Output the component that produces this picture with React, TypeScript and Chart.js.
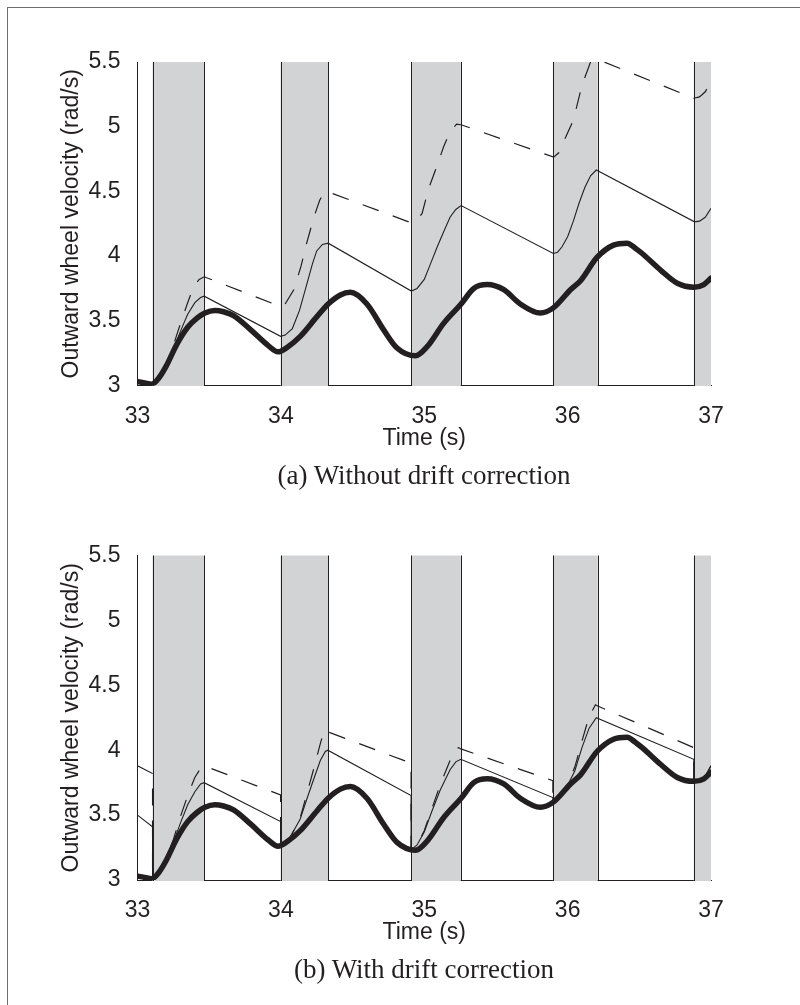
import React, { useEffect, useRef } from "react";
import { Chart, registerables } from "chart.js";

Chart.register(...registerables);

// ---- axes ----
const X_MIN = 33;
const X_MAX = 37;
const X_TICKS = [33, 34, 35, 36, 37];
const Y_MIN = 3;
const Y_MAX = 5.5;
const Y_TICKS = [3, 3.5, 4, 4.5, 5, 5.5];
const X_TITLE = "Time (s)";
const Y_TITLE = "Outward wheel velocity (rad/s)";
const CAPTIONS = ["(a) Without drift correction", "(b) With drift correction"];

// ---- shaded intervals (s) ----
const BAND_START = [33.105, 33.998, 34.908, 35.897, 36.88];
const BAND_END = [33.465, 34.33, 35.255, 36.21, 37.0];

// ---- thick line (same in both panels) ----
const THICK_T = [33.0, 33.05, 33.1, 33.15, 33.2, 33.275, 33.35, 33.415, 33.47, 33.54, 33.6, 33.67, 33.79, 33.91, 33.98, 34.05, 34.135, 34.25, 34.33, 34.415, 34.485, 34.6, 34.717, 34.81, 34.94, 35.02, 35.135, 35.257, 35.345, 35.44, 35.555, 35.67, 35.81, 35.9, 36.02, 36.09, 36.205, 36.32, 36.415, 36.45, 36.485, 36.52, 36.65, 36.765, 36.88, 36.95, 37.0];
const THICK_V = [3.03, 3.02, 3.01, 3.06, 3.15, 3.32, 3.45, 3.52, 3.56, 3.58, 3.57, 3.54, 3.43, 3.31, 3.26, 3.3, 3.38, 3.53, 3.63, 3.7, 3.72, 3.63, 3.43, 3.29, 3.23, 3.3, 3.48, 3.63, 3.75, 3.78, 3.74, 3.63, 3.56, 3.6, 3.74, 3.81, 3.99, 4.085, 4.1, 4.08, 4.05, 4.02, 3.89, 3.79, 3.76, 3.78, 3.83];

// ---- panel (a): thin solid ----
const A_SOLID_T = [33.0, 33.1, 33.15, 33.2, 33.25, 33.3, 33.35, 33.4, 33.44, 33.465, 33.998, 34.03, 34.08, 34.13, 34.18, 34.22, 34.25, 34.29, 34.33, 34.91, 34.95, 35.0, 35.04, 35.09, 35.14, 35.18, 35.22, 35.257, 35.9, 35.93, 35.96, 36.0, 36.04, 36.08, 36.12, 36.16, 36.2, 36.885, 36.92, 36.96, 37.0];
const A_SOLID_V = [3.02, 3.01, 3.05, 3.17, 3.28, 3.42, 3.55, 3.64, 3.68, 3.69, 3.38, 3.39, 3.44, 3.58, 3.78, 3.94, 4.04, 4.09, 4.1, 3.73, 3.75, 3.82, 3.93, 4.07, 4.2, 4.3, 4.36, 4.39, 4.02, 4.03, 4.07, 4.15, 4.27, 4.41, 4.53, 4.62, 4.665, 4.265, 4.27, 4.3, 4.37];

// ---- panel (a): dashed ----
const A_DASH_T = [33.0, 33.1, 33.15, 33.2, 33.25, 33.3, 33.35, 33.39, 33.43, 33.465, 33.998, 34.03, 34.09, 34.14, 34.18, 34.23, 34.27, 34.3, 34.32, 34.915, 34.95, 34.985, 35.03, 35.09, 35.135, 35.18, 35.225, 35.257, 35.903, 35.94, 35.97, 36.04, 36.1, 36.16, 36.21, 36.88, 36.92, 36.96, 37.0];
const A_DASH_V = [3.02, 3.01, 3.05, 3.17, 3.31, 3.48, 3.64, 3.76, 3.82, 3.84, 3.61, 3.63, 3.74, 3.92, 4.1, 4.3, 4.43, 4.49, 4.5, 4.255, 4.28, 4.33, 4.52, 4.7, 4.845, 4.96, 5.02, 5.015, 4.765, 4.8, 4.88, 5.05, 5.32, 5.5, 5.52, 5.22, 5.23, 5.27, 5.35];

// ---- panel (b): thin solid ----
const B_SOLID_T = [33.0, 33.105, 33.105, 33.15, 33.2, 33.25, 33.3, 33.35, 33.4, 33.44, 33.465, 33.998, 33.998, 34.05, 34.08, 34.135, 34.18, 34.23, 34.275, 34.31, 34.327, 34.908, 34.908, 34.95, 35.0, 35.05, 35.11, 35.18, 35.22, 35.255, 35.897, 35.897, 35.95, 36.0, 36.05, 36.1, 36.15, 36.2, 36.88, 36.88, 36.95, 37.0];
const B_SOLID_V = [3.5, 3.41, 3.01, 3.05, 3.15, 3.29, 3.44, 3.58, 3.68, 3.74, 3.75, 3.45, 3.27, 3.3, 3.36, 3.47, 3.62, 3.78, 3.92, 3.99, 4.0, 3.65, 3.23, 3.27, 3.37, 3.52, 3.69, 3.85, 3.91, 3.93, 3.635, 3.6, 3.64, 3.73, 3.84, 4.02, 4.17, 4.25, 3.93, 3.76, 3.78, 3.88];

// ---- panel (b): dashed ----
const B_DASH_T = [33.0, 33.105, 33.105, 33.15, 33.2, 33.25, 33.3, 33.35, 33.4, 33.44, 33.465, 33.998, 33.998, 34.05, 34.08, 34.135, 34.18, 34.23, 34.275, 34.303, 34.33, 34.908, 34.908, 34.95, 35.0, 35.05, 35.11, 35.18, 35.22, 35.24, 35.255, 35.897, 35.897, 35.95, 36.0, 36.05, 36.1, 36.15, 36.194, 36.21, 36.88, 36.88, 36.95, 37.0];
const B_DASH_V = [3.88, 3.82, 3.01, 3.05, 3.17, 3.31, 3.49, 3.65, 3.79, 3.86, 3.88, 3.655, 3.27, 3.3, 3.36, 3.48, 3.66, 3.86, 4.05, 4.16, 4.14, 3.9, 3.23, 3.27, 3.38, 3.54, 3.73, 3.92, 4.01, 4.02, 4.01, 3.765, 3.6, 3.65, 3.74, 3.87, 4.07, 4.26, 4.35, 4.34, 4.02, 3.76, 3.78, 3.88];

const INK = "#231f20";
const BAND_FILL = "#d1d3d4";
const SANS = "'Liberation Sans', Arial, Helvetica, sans-serif";
const SERIF = "'Liberation Serif', 'Times New Roman', serif";

const zip = (t: number[], v: number[]) => t.map((x, i) => ({ x, y: v[i] }));

const bandsPlugin = {
  id: "bands",
  beforeDatasetsDraw(chart: any) {
    const { ctx, chartArea, scales } = chart;
    const xs = scales.x;
    const top = chartArea.top;
    const bottom = Math.floor(chartArea.bottom) + 1;
    ctx.save();
    ctx.fillStyle = BAND_FILL;
    for (let i = 0; i < BAND_START.length; i++) {
      const x0 = xs.getPixelForValue(BAND_START[i]);
      const x1 = xs.getPixelForValue(BAND_END[i]);
      ctx.fillRect(x0, top, x1 - x0, bottom - top);
    }
    ctx.strokeStyle = INK;
    ctx.lineWidth = 1;
    const edges = [...BAND_START, ...BAND_END].filter((e) => e < X_MAX);
    for (const e of edges) {
      const px = Math.round(xs.getPixelForValue(e)) + 0.5;
      ctx.beginPath();
      ctx.moveTo(px, top);
      ctx.lineTo(px, bottom);
      ctx.stroke();
    }
    ctx.restore();
  },
};

function makeChart(
  canvas: HTMLCanvasElement,
  solid: { x: number; y: number }[],
  dashed: { x: number; y: number }[],
  padTop: number,
  xAxisH: number,
  xTitlePad: number
) {
  const tickFont = { family: SANS, size: 23 };
  return new Chart(canvas, {
    type: "line",
    data: {
      datasets: [
        {
          data: zip(THICK_T, THICK_V),
          borderColor: INK,
          borderWidth: 5.5,
          cubicInterpolationMode: "monotone",
          borderCapStyle: "round",
          borderJoinStyle: "round",
          pointRadius: 0,
          fill: false,
        },
        {
          data: solid,
          borderColor: INK,
          borderWidth: 1.1,
          tension: 0,
          pointRadius: 0,
          fill: false,
        },
        {
          data: dashed,
          borderColor: INK,
          borderWidth: 1.2,
          borderDash: [17, 15],
          tension: 0,
          pointRadius: 0,
          fill: false,
          clip: 0,
        },
      ],
    },
    options: {
      responsive: false,
      animation: false,
      devicePixelRatio: 1,
      events: [],
      layout: { padding: { left: 0, right: 89, top: padTop, bottom: 0 } },
      plugins: { legend: { display: false }, tooltip: { enabled: false } },
      scales: {
        x: {
          type: "linear",
          min: X_MIN,
          max: X_MAX,
          grid: { display: false },
          border: { display: true, color: INK, width: 1 },
          afterBuildTicks: (s: any) => {
            s.ticks = X_TICKS.map((v) => ({ value: v }));
          },
          afterFit: (s: any) => {
            s.height = xAxisH;
          },
          ticks: {
            padding: 9,
            color: INK,
            font: tickFont,
            maxRotation: 0,
            autoSkip: false,
            callback: (v: any) => String(v),
          },
          title: {
            display: true,
            text: X_TITLE,
            color: INK,
            font: tickFont,
            padding: { top: 0, bottom: xTitlePad },
          },
        },
        y: {
          type: "linear",
          min: Y_MIN,
          max: Y_MAX,
          grid: { display: false },
          border: { display: true, color: INK, width: 1 },
          afterBuildTicks: (s: any) => {
            s.ticks = Y_TICKS.map((v) => ({ value: v }));
          },
          afterFit: (s: any) => {
            s.width = 137.5;
          },
          ticks: {
            padding: 9,
            color: INK,
            font: tickFont,
            autoSkip: false,
            callback: (v: any) => String(v),
          },
          title: {
            display: true,
            text: Y_TITLE,
            color: INK,
            font: tickFont,
            padding: { top: 58, bottom: 0 },
          },
        },
      },
    },
    plugins: [bandsPlugin],
  } as any);
}

export default function App() {
  const refA = useRef<HTMLCanvasElement>(null);
  const refB = useRef<HTMLCanvasElement>(null);

  useEffect(() => {
    const a = makeChart(refA.current!, zip(A_SOLID_T, A_SOLID_V), zip(A_DASH_T, A_DASH_V), 62, 114.5, 48);
    const b = makeChart(refB.current!, zip(B_SOLID_T, B_SOLID_V), zip(B_DASH_T, B_DASH_V), 61.5, 114, 47.5);
    return () => {
      a.destroy();
      b.destroy();
    };
  }, []);

  const captionStyle = (top: number): React.CSSProperties => ({
    position: "absolute",
    left: 224,
    width: 400,
    top,
    textAlign: "center",
    fontFamily: SERIF,
    fontSize: 27,
    lineHeight: "30px",
    color: INK,
    whiteSpace: "nowrap",
  });

  return (
    <div
      style={{
        position: "absolute",
        left: 0,
        top: 0,
        width: 800,
        height: 1005,
        overflow: "hidden",
        background: "#fff",
      }}
    >
      <div
        style={{
          position: "absolute",
          left: 7,
          top: 7,
          width: 820,
          height: 1020,
          borderTop: "1px solid #6d6e70",
          borderLeft: "1px solid #6d6e70",
        }}
      />
      <canvas ref={refA} width={800} height={500} style={{ position: "absolute", left: 0, top: 0 }} />
      <canvas ref={refB} width={800} height={500} style={{ position: "absolute", left: 0, top: 494 }} />
      <div style={captionStyle(460)}>{CAPTIONS[0]}</div>
      <div style={captionStyle(954)}>{CAPTIONS[1]}</div>
    </div>
  );
}
